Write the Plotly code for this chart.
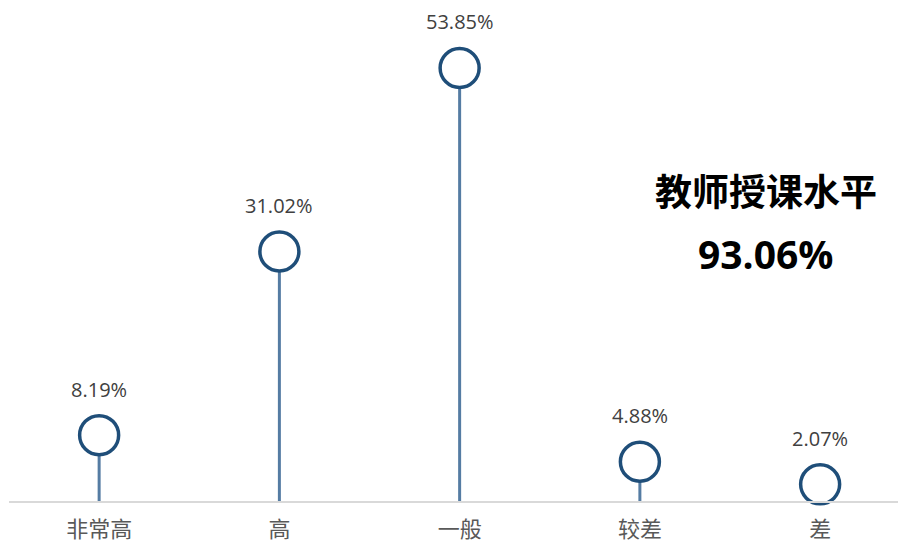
import plotly.graph_objects as go

categories = ["非常高", "高", "一般", "较差", "差"]
values = [8.19, 31.02, 53.85, 4.88, 2.07]
value_labels = ["8.19%", "31.02%", "53.85%", "4.88%", "2.07%"]
title_text = "教师授课水平"
summary_text = "93.06%"

FONT = "'Open Sans', 'Noto Sans CJK SC', sans-serif"
CJK = "'Noto Sans CJK SC', sans-serif"
idx = list(range(len(categories)))

fig = go.Figure()

# stems
sx, sy = [], []
for i, v in zip(idx, values):
    sx += [i, i, None]
    sy += [0, v, None]
fig.add_trace(go.Scatter(x=sx, y=sy, mode="lines",
                         line=dict(color="#557ca3", width=3),
                         hoverinfo="skip", showlegend=False))

# heads
fig.add_trace(go.Scatter(x=idx, y=values, mode="markers",
                         marker=dict(size=39, color="white",
                                     line=dict(color="#1f4e79", width=3.5)),
                         cliponaxis=False, showlegend=False))

for i, v, t in zip(idx, values, value_labels):
    fig.add_annotation(x=i, y=v, text=t, showarrow=False, yshift=46,
                       font=dict(family=FONT, size=20, color="#404040"))

fig.add_annotation(x=0.8515, y=0.621, xref="paper", yref="paper", xanchor="center",
                   text=f"<b>{title_text}</b>",
                   showarrow=False, font=dict(family=CJK, size=37, color="#000000"))
fig.add_annotation(x=0.8515, y=0.495, xref="paper", yref="paper", xanchor="center",
                   text=f"<b>{summary_text}</b>",
                   showarrow=False, font=dict(family=FONT, size=39, color="#000000"))

fig.update_layout(
    width=898, height=544,
    margin=dict(l=9, r=0, t=0, b=43, autoexpand=False),
    plot_bgcolor="white", paper_bgcolor="white",
    xaxis=dict(range=[-0.5, 4.432], tickmode="array", tickvals=idx, ticktext=categories,
               showgrid=False, zeroline=False, showline=True, linecolor="#d9d9d9", linewidth=2,
               automargin=False,
               ticks="", ticklabelstandoff=8, tickfont=dict(family=CJK, size=22, color="#595959"),
               fixedrange=True),
    yaxis=dict(range=[0, 62.3], visible=False, showgrid=False, zeroline=False,
               automargin=False, fixedrange=True),
)

fig.write_html("out.html", config={"displayModeBar": False},
               post_script="document.body.style.margin='0';document.body.style.overflow='hidden';")
